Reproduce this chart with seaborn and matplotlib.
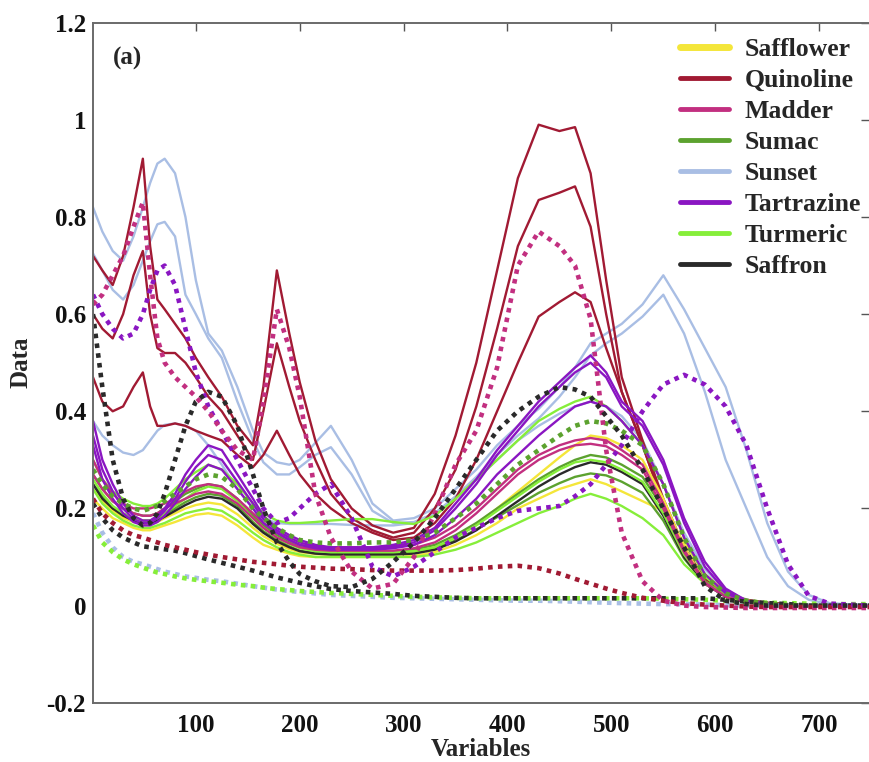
import matplotlib
matplotlib.use("Agg")
import matplotlib.pyplot as plt
import pandas as pd
import seaborn as sns
from matplotlib.lines import Line2D

# ---------------- data ----------------
variables = [1, 10, 20, 30, 40, 49, 56, 63, 70, 80,
             90, 100, 112, 125, 140, 155, 165, 178, 190, 200,
             215, 230, 250, 270, 290, 310, 330, 350, 370, 390,
             410, 430, 450, 465, 480, 495, 510, 530, 550, 570,
             590, 610, 630, 650, 670, 690, 710, 750]

quinoline_1 = [0.72, 0.69, 0.66, 0.72, 0.82, 0.92, 0.74, 0.63, 0.61, 0.58,
               0.55, 0.51, 0.47, 0.43, 0.37, 0.33, 0.45, 0.69, 0.56, 0.46,
               0.34, 0.26, 0.20, 0.165, 0.15, 0.16, 0.23, 0.35, 0.50, 0.69,
               0.88, 0.99, 0.977, 0.985, 0.89, 0.67, 0.47, 0.34, 0.22, 0.12,
               0.055, 0.025, 0.012, 0.006, 0.003, 0.001, 0.0, 0.0]
quinoline_2 = [0.60, 0.57, 0.55, 0.60, 0.68, 0.73, 0.60, 0.53, 0.52, 0.52,
               0.50, 0.47, 0.43, 0.40, 0.35, 0.30, 0.40, 0.54, 0.45, 0.38,
               0.30, 0.23, 0.18, 0.155, 0.14, 0.15, 0.20, 0.28, 0.41, 0.57,
               0.74, 0.835, 0.85, 0.863, 0.78, 0.60, 0.44, 0.33, 0.21, 0.115,
               0.05, 0.022, 0.01, 0.005, 0.002, 0.001, 0.0, 0.0]
quinoline_3 = [0.47, 0.42, 0.40, 0.41, 0.45, 0.48, 0.41, 0.37, 0.37, 0.375,
               0.37, 0.36, 0.35, 0.34, 0.31, 0.285, 0.31, 0.36, 0.31, 0.27,
               0.23, 0.20, 0.17, 0.15, 0.135, 0.14, 0.17, 0.22, 0.30, 0.40,
               0.50, 0.595, 0.625, 0.645, 0.625, 0.53, 0.44, 0.33, 0.21, 0.115,
               0.05, 0.022, 0.01, 0.005, 0.002, 0.001, 0.0, 0.0]
quinoline_dot = [0.22, 0.19, 0.17, 0.155, 0.145, 0.14, 0.135, 0.13, 0.125, 0.12,
                 0.115, 0.11, 0.105, 0.10, 0.095, 0.09, 0.088, 0.085, 0.082, 0.08,
                 0.078, 0.076, 0.075, 0.073, 0.072, 0.072, 0.072, 0.073, 0.076, 0.08,
                 0.082, 0.077, 0.066, 0.055, 0.045, 0.035, 0.026, 0.016, 0.01, 0.005,
                 0.002, 0.0, -0.002, -0.003, -0.003, -0.003, -0.003, -0.003]

madder_1 = [0.30, 0.26, 0.23, 0.21, 0.20, 0.20, 0.20, 0.205, 0.21, 0.22,
            0.235, 0.245, 0.25, 0.245, 0.22, 0.19, 0.17, 0.15, 0.135, 0.125,
            0.12, 0.12, 0.12, 0.12, 0.12, 0.125, 0.14, 0.165, 0.20, 0.24,
            0.28, 0.31, 0.33, 0.34, 0.345, 0.34, 0.32, 0.29, 0.21, 0.115,
            0.048, 0.018, 0.007, 0.003, 0.001, 0.0, 0.0, 0.0]
madder_2 = [0.27, 0.24, 0.215, 0.20, 0.19, 0.185, 0.185, 0.19, 0.20, 0.21,
            0.22, 0.23, 0.235, 0.23, 0.21, 0.18, 0.16, 0.14, 0.128, 0.12,
            0.115, 0.113, 0.113, 0.113, 0.113, 0.118, 0.13, 0.155, 0.19, 0.23,
            0.27, 0.30, 0.32, 0.33, 0.333, 0.328, 0.31, 0.28, 0.20, 0.11,
            0.045, 0.018, 0.007, 0.003, 0.001, 0.0, 0.0, 0.0]
madder_dot = [0.62, 0.64, 0.68, 0.72, 0.78, 0.83, 0.68, 0.55, 0.50, 0.47,
              0.45, 0.43, 0.40, 0.36, 0.32, 0.30, 0.42, 0.61, 0.53, 0.43,
              0.23, 0.14, 0.07, 0.035, 0.045, 0.10, 0.19, 0.29, 0.36, 0.49,
              0.70, 0.77, 0.74, 0.70, 0.59, 0.32, 0.15, 0.05, 0.01, 0.0,
              -0.003, -0.004, -0.005, -0.005, -0.005, -0.005, -0.005, -0.005]

sumac_1 = [0.27, 0.24, 0.215, 0.20, 0.19, 0.185, 0.185, 0.19, 0.20, 0.215,
           0.23, 0.24, 0.25, 0.245, 0.22, 0.185, 0.165, 0.145, 0.13, 0.12,
           0.115, 0.112, 0.112, 0.112, 0.112, 0.115, 0.125, 0.145, 0.17, 0.20,
           0.23, 0.26, 0.285, 0.30, 0.31, 0.305, 0.29, 0.265, 0.20, 0.11,
           0.05, 0.02, 0.008, 0.003, 0.001, 0.0, 0.0, 0.0]
sumac_2 = [0.25, 0.225, 0.20, 0.188, 0.18, 0.175, 0.175, 0.18, 0.188, 0.20,
           0.213, 0.223, 0.23, 0.226, 0.205, 0.172, 0.153, 0.135, 0.122, 0.113,
           0.108, 0.106, 0.106, 0.106, 0.106, 0.108, 0.117, 0.134, 0.157, 0.182,
           0.207, 0.232, 0.252, 0.265, 0.272, 0.268, 0.255, 0.232, 0.175, 0.097,
           0.045, 0.019, 0.008, 0.003, 0.001, 0.0, 0.0, 0.0]
sumac_dot = [0.28, 0.25, 0.225, 0.21, 0.20, 0.195, 0.20, 0.205, 0.215, 0.23,
             0.245, 0.26, 0.27, 0.265, 0.24, 0.20, 0.18, 0.16, 0.145, 0.135,
             0.13, 0.128, 0.128, 0.13, 0.13, 0.135, 0.15, 0.18, 0.21, 0.25,
             0.29, 0.32, 0.35, 0.37, 0.38, 0.375, 0.36, 0.33, 0.25, 0.14,
             0.06, 0.025, 0.01, 0.004, 0.001, 0.0, 0.0, 0.0]

sunset_1 = [0.82, 0.77, 0.73, 0.71, 0.76, 0.82, 0.87, 0.91, 0.92, 0.89,
            0.80, 0.67, 0.56, 0.525, 0.45, 0.36, 0.315, 0.295, 0.29, 0.30,
            0.335, 0.37, 0.30, 0.21, 0.175, 0.18, 0.20, 0.24, 0.28, 0.33,
            0.37, 0.405, 0.45, 0.49, 0.54, 0.56, 0.58, 0.62, 0.68, 0.61,
            0.53, 0.45, 0.32, 0.17, 0.07, 0.022, 0.005, 0.0]
sunset_2 = [0.725, 0.69, 0.65, 0.63, 0.66, 0.71, 0.75, 0.785, 0.79, 0.76,
            0.64, 0.60, 0.55, 0.51, 0.42, 0.34, 0.295, 0.27, 0.27, 0.285,
            0.31, 0.326, 0.27, 0.195, 0.17, 0.172, 0.19, 0.225, 0.265, 0.31,
            0.35, 0.385, 0.43, 0.47, 0.515, 0.54, 0.56, 0.595, 0.64, 0.56,
            0.44, 0.30, 0.20, 0.10, 0.04, 0.012, 0.003, 0.0]
sunset_3 = [0.38, 0.35, 0.33, 0.315, 0.31, 0.32, 0.34, 0.36, 0.372, 0.375,
            0.37, 0.36, 0.33, 0.29, 0.24, 0.20, 0.18, 0.17, 0.168, 0.168,
            0.168, 0.168, 0.166, 0.165, 0.165, 0.17, 0.19, 0.22, 0.26, 0.30,
            0.34, 0.37, 0.395, 0.41, 0.42, 0.41, 0.39, 0.34, 0.25, 0.15,
            0.075, 0.03, 0.012, 0.005, 0.002, 0.0, 0.0, 0.0]
sunset_dot = [0.19, 0.15, 0.12, 0.10, 0.09, 0.085, 0.08, 0.075, 0.07, 0.065,
              0.06, 0.057, 0.053, 0.05, 0.045, 0.04, 0.037, 0.033, 0.03, 0.028,
              0.025, 0.022, 0.02, 0.018, 0.016, 0.015, 0.014, 0.013, 0.012, 0.011,
              0.01, 0.01, 0.009, 0.008, 0.007, 0.006, 0.005, 0.004, 0.003, 0.003,
              0.002, 0.001, 0.0, 0.0, 0.0, 0.0, 0.0, 0.0]

tartrazine_1 = [0.38, 0.30, 0.25, 0.21, 0.185, 0.175, 0.175, 0.185, 0.20, 0.23,
                0.27, 0.30, 0.33, 0.32, 0.27, 0.22, 0.185, 0.16, 0.145, 0.135,
                0.125, 0.12, 0.12, 0.12, 0.125, 0.135, 0.16, 0.21, 0.26, 0.32,
                0.37, 0.42, 0.46, 0.49, 0.515, 0.48, 0.42, 0.38, 0.30, 0.18,
                0.09, 0.035, 0.01, 0.004, 0.001, 0.0, 0.0, 0.0]
tartrazine_2 = [0.35, 0.28, 0.235, 0.20, 0.178, 0.17, 0.17, 0.18, 0.195, 0.22,
                0.255, 0.285, 0.31, 0.30, 0.255, 0.21, 0.178, 0.155, 0.14, 0.13,
                0.122, 0.118, 0.118, 0.118, 0.122, 0.13, 0.155, 0.20, 0.25, 0.31,
                0.36, 0.41, 0.45, 0.48, 0.50, 0.47, 0.41, 0.37, 0.29, 0.17,
                0.08, 0.03, 0.01, 0.004, 0.001, 0.0, 0.0, 0.0]
tartrazine_3 = [0.33, 0.26, 0.22, 0.19, 0.172, 0.165, 0.165, 0.172, 0.185, 0.21,
                0.24, 0.265, 0.29, 0.28, 0.24, 0.20, 0.17, 0.15, 0.135, 0.125,
                0.118, 0.115, 0.115, 0.115, 0.118, 0.125, 0.145, 0.18, 0.22, 0.27,
                0.31, 0.35, 0.385, 0.41, 0.42, 0.41, 0.38, 0.33, 0.25, 0.14,
                0.065, 0.025, 0.009, 0.003, 0.001, 0.0, 0.0, 0.0]
tartrazine_dot = [0.64, 0.60, 0.57, 0.55, 0.56, 0.60, 0.65, 0.69, 0.70, 0.66,
                  0.57, 0.48, 0.41, 0.36, 0.30, 0.24, 0.20, 0.17, 0.18, 0.20,
                  0.23, 0.25, 0.18, 0.08, 0.06, 0.08, 0.11, 0.14, 0.16, 0.18,
                  0.195, 0.20, 0.205, 0.225, 0.25, 0.29, 0.33, 0.40, 0.455, 0.475,
                  0.455, 0.41, 0.33, 0.20, 0.085, 0.02, 0.004, 0.0]

turmeric_1 = [0.30, 0.26, 0.235, 0.22, 0.21, 0.205, 0.205, 0.21, 0.22, 0.24,
              0.26, 0.275, 0.29, 0.28, 0.25, 0.21, 0.19, 0.175, 0.17, 0.17,
              0.172, 0.175, 0.178, 0.178, 0.172, 0.168, 0.185, 0.22, 0.26, 0.30,
              0.34, 0.38, 0.405, 0.42, 0.43, 0.41, 0.38, 0.33, 0.25, 0.14,
              0.06, 0.025, 0.01, 0.004, 0.001, 0.0, 0.0, 0.0]
turmeric_2 = [0.24, 0.21, 0.19, 0.175, 0.165, 0.16, 0.16, 0.165, 0.17, 0.18,
              0.19, 0.195, 0.20, 0.195, 0.175, 0.15, 0.135, 0.12, 0.11, 0.105,
              0.10, 0.10, 0.10, 0.10, 0.10, 0.10, 0.105, 0.115, 0.13, 0.15,
              0.17, 0.19, 0.205, 0.22, 0.23, 0.22, 0.205, 0.18, 0.145, 0.085,
              0.045, 0.02, 0.008, 0.003, 0.001, 0.0, 0.0, 0.0]
turmeric_3 = [0.26, 0.23, 0.205, 0.19, 0.18, 0.175, 0.175, 0.18, 0.19, 0.205,
              0.22, 0.235, 0.245, 0.24, 0.215, 0.18, 0.16, 0.14, 0.127, 0.118,
              0.112, 0.11, 0.11, 0.11, 0.11, 0.112, 0.12, 0.14, 0.165, 0.195,
              0.225, 0.255, 0.28, 0.295, 0.30, 0.295, 0.28, 0.255, 0.19, 0.105,
              0.048, 0.02, 0.008, 0.003, 0.001, 0.0, 0.0, 0.0]
turmeric_dot = [0.165, 0.13, 0.11, 0.095, 0.085, 0.078, 0.073, 0.068, 0.065, 0.06,
                0.056, 0.053, 0.05, 0.047, 0.043, 0.04, 0.037, 0.034, 0.032, 0.03,
                0.028, 0.026, 0.024, 0.022, 0.02, 0.018, 0.017, 0.016, 0.015, 0.015,
                0.015, 0.015, 0.015, 0.015, 0.015, 0.015, 0.015, 0.015, 0.014, 0.013,
                0.012, 0.01, 0.008, 0.006, 0.005, 0.004, 0.003, 0.003]

safflower_1 = [0.24, 0.215, 0.195, 0.18, 0.172, 0.168, 0.168, 0.172, 0.18, 0.19,
               0.20, 0.207, 0.212, 0.208, 0.188, 0.16, 0.143, 0.127, 0.116, 0.11,
               0.106, 0.105, 0.105, 0.105, 0.106, 0.11, 0.12, 0.14, 0.168, 0.20,
               0.235, 0.27, 0.305, 0.33, 0.35, 0.345, 0.33, 0.30, 0.22, 0.12,
               0.05, 0.02, 0.008, 0.003, 0.001, 0.0, 0.0, 0.0]
safflower_2 = [0.22, 0.20, 0.18, 0.17, 0.16, 0.155, 0.155, 0.16, 0.165, 0.172,
               0.18, 0.187, 0.19, 0.185, 0.165, 0.14, 0.125, 0.115, 0.107, 0.102,
               0.10, 0.10, 0.10, 0.10, 0.10, 0.102, 0.11, 0.125, 0.145, 0.17,
               0.20, 0.22, 0.24, 0.25, 0.26, 0.25, 0.235, 0.215, 0.195, 0.13,
               0.065, 0.028, 0.011, 0.004, 0.001, 0.0, 0.0, 0.0]

saffron_1 = [0.25, 0.22, 0.20, 0.185, 0.175, 0.17, 0.17, 0.175, 0.183, 0.195,
             0.207, 0.217, 0.224, 0.22, 0.20, 0.168, 0.15, 0.132, 0.12, 0.112,
             0.107, 0.105, 0.105, 0.105, 0.105, 0.107, 0.115, 0.132, 0.155, 0.185,
             0.215, 0.245, 0.27, 0.285, 0.295, 0.29, 0.275, 0.25, 0.185, 0.10,
             0.045, 0.018, 0.007, 0.003, 0.001, 0.0, 0.0, 0.0]
saffron_dot_1 = [0.60, 0.45, 0.30, 0.22, 0.18, 0.165, 0.17, 0.19, 0.23, 0.30,
                 0.37, 0.42, 0.44, 0.43, 0.37, 0.27, 0.20, 0.13, 0.09, 0.065,
                 0.05, 0.04, 0.038, 0.055, 0.09, 0.13, 0.18, 0.24, 0.30, 0.36,
                 0.40, 0.43, 0.45, 0.445, 0.43, 0.39, 0.35, 0.28, 0.20, 0.12,
                 0.04, 0.01, 0.003, 0.0, 0.0, 0.0, 0.0, 0.0]
saffron_dot_2 = [0.21, 0.18, 0.155, 0.14, 0.13, 0.122, 0.12, 0.118, 0.116, 0.113,
                 0.108, 0.102, 0.095, 0.088, 0.08, 0.072, 0.066, 0.058, 0.052, 0.047,
                 0.04, 0.034, 0.03, 0.027, 0.024, 0.02, 0.018, 0.016, 0.015, 0.015,
                 0.015, 0.015, 0.015, 0.015, 0.015, 0.015, 0.015, 0.015, 0.015, 0.015,
                 0.015, 0.012, 0.008, 0.005, 0.003, 0.0, 0.0, 0.0]

dyes = ["Safflower", "Quinoline", "Madder", "Sumac", "Sunset",
        "Tartrazine", "Turmeric", "Saffron"]
dye_colors = ["#F4E63A", "#A11A33", "#C22F80", "#5CA22F", "#A9BEE4",
              "#8A16C2", "#86EE3A", "#2A2A2A"]

x_ticks = [100, 200, 300, 400, 500, 600, 700]
x_tick_labels = ["100", "200", "300", "400", "500", "600", "700"]
y_ticks = [-0.2, 0.0, 0.2, 0.4, 0.6, 0.8, 1.0, 1.2]
y_tick_labels = ["-0.2", "0", "0.2", "0.4", "0.6", "0.8", "1", "1.2"]

# curve table built from the named arrays (draw order: solids first, dotted on top)
curve_table = [
    ("Sunset", "solid", sunset_1), ("Sunset", "solid", sunset_2), ("Sunset", "solid", sunset_3),
    ("Quinoline", "solid", quinoline_1), ("Quinoline", "solid", quinoline_2),
    ("Quinoline", "solid", quinoline_3),
    ("Safflower", "solid", safflower_1), ("Safflower", "solid", safflower_2),
    ("Sumac", "solid", sumac_1), ("Sumac", "solid", sumac_2),
    ("Saffron", "solid", saffron_1),
    ("Turmeric", "solid", turmeric_1), ("Turmeric", "solid", turmeric_2),
    ("Turmeric", "solid", turmeric_3),
    ("Madder", "solid", madder_1), ("Madder", "solid", madder_2),
    ("Tartrazine", "solid", tartrazine_1), ("Tartrazine", "solid", tartrazine_2),
    ("Tartrazine", "solid", tartrazine_3),
    ("Sunset", "dot", sunset_dot), ("Turmeric", "dot", turmeric_dot),
    ("Saffron", "dot", saffron_dot_2), ("Quinoline", "dot", quinoline_dot),
    ("Sumac", "dot", sumac_dot), ("Tartrazine", "dot", tartrazine_dot),
    ("Madder", "dot", madder_dot), ("Saffron", "dot", saffron_dot_1),
]

rows = []
for cid, (dye, style, vals) in enumerate(curve_table):
    for xv, yv in zip(variables, vals):
        rows.append({"Variables": xv, "Data": yv, "dye": dye, "style": style, "curve": cid})
df = pd.DataFrame(rows)
color_of = dict(zip(dyes, dye_colors))

# ---------------- figure ----------------
sns.set_style("white")
plt.rcParams["font.family"] = ["Liberation Serif", "DejaVu Serif"]
plt.rcParams["font.weight"] = "bold"

fig = plt.figure(figsize=(8.69, 7.62), dpi=100)
ax = fig.add_axes([0.107, 0.0778, 0.893, 0.8924])

for cid, (dye, style, _) in enumerate(curve_table):
    sub = df[df["curve"] == cid]
    if style == "solid":
        sns.lineplot(data=sub, x="Variables", y="Data", ax=ax, color=color_of[dye],
                     lw=1.7, estimator=None, sort=False, legend=False)
    else:
        sns.lineplot(data=sub, x="Variables", y="Data", ax=ax, color=color_of[dye],
                     lw=3.3, linestyle=(0, (1, 1.15)), dash_capstyle="butt",
                     estimator=None, sort=False, legend=False)

ax.set_xlim(1, 748)
ax.set_ylim(-0.2, 1.2)
ax.set_xticks(x_ticks)
ax.set_xticklabels(x_tick_labels)
ax.set_yticks(y_ticks)
ax.set_yticklabels(y_tick_labels)
ax.tick_params(axis="both", direction="in", length=6, width=1.0, color="#555555",
               top=True, right=True, labelsize=18, labelcolor="#111111")
ax.tick_params(axis="x", pad=8)
ax.tick_params(axis="y", pad=5)
for name in ["left", "bottom", "top"]:
    ax.spines[name].set_color("#6a6a6a")
    ax.spines[name].set_linewidth(1.4)
ax.spines["right"].set_visible(False)

ax.set_xlabel("Variables", fontsize=18, fontweight="bold", labelpad=1)
ax.set_ylabel("Data", fontsize=18, fontweight="bold", labelpad=10)

ax.text(20, 1.126, "(a)", fontsize=18, fontweight="bold", ha="left", va="center")

handles = [Line2D([], [], color=c, lw=(5 if d == "Safflower" else 3.5)) for d, c in zip(dyes, dye_colors)]
ax.legend(handles, dyes, loc="upper left", bbox_to_anchor=(680 / 869, 1 - 38 / 762),
          bbox_transform=fig.transFigure, frameon=False, borderpad=0, borderaxespad=0,
          handlelength=1.9, handletextpad=0.62, labelspacing=0.31,
          prop={"family": "Liberation Serif", "weight": "bold", "size": 18.5})

fig.savefig("out.png", dpi=100)
